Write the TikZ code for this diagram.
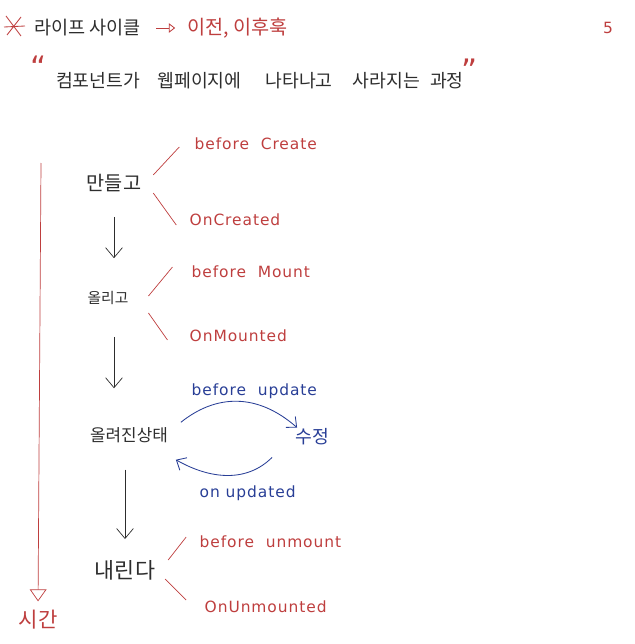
\documentclass[tikz,border=0pt]{standalone}
\usepackage{fontspec}
\setmainfont{DejaVu Sans}
\newfontfamily\pen[LetterSpace=6]{DejaVu Sans}
\newfontfamily\kor{Noto Sans CJK KR}
\usetikzlibrary{arrows.meta, positioning, calc}
\definecolor{penred}{RGB}{190,62,62}
\definecolor{penblue}{RGB}{40,62,150}
\definecolor{pendark}{RGB}{45,45,45}
\tikzset{
  stage/.style={font=\kor\fontsize{12}{14}\selectfont, text=pendark, inner sep=2pt},
  redstage/.style={stage, text=penred},
  hook/.style={font=\pen\fontsize{11}{13}\selectfont, text=penred, inner sep=1pt, anchor=west},
  bluehook/.style={hook, text=penblue},
  quote/.style={font=\fontsize{22}{22}\selectfont, text=penred, inner sep=0pt},
  tick/.style={line width=0.5pt, color=penred},
  flow/.style={-{Straight Barb[length=2.5mm, width=4.2mm]}, line width=0.5pt, color=pendark},
  cycle/.style={-{Straight Barb[length=2mm, width=3.6mm]}, line width=0.6pt, color=penblue},
  timeline/.style={-{Triangle[open, length=3mm, width=4.2mm]}, line width=0.5pt, color=penred},
  redarrow/.style={-{Triangle[open, length=1.6mm, width=2.4mm]}, line width=0.6pt, color=penred}
}
\begin{document}
\begin{tikzpicture}[x=0.025cm, y=-0.025cm]
  \useasboundingbox (0,0) rectangle (635,644);
  % heading
  \draw[tick, line width=0.6pt] (6,16) -- (21,36) (21,17) -- (7,35) (4,27) -- (25,26);
  \node[stage, anchor=west, font=\kor\fontsize{13.2}{15}\selectfont] (title) at (31,28) {라이프\hspace{1mm}사이클};
  \node[redstage, anchor=west, font=\kor\fontsize{14}{16}\selectfont] (hooks) at (184,28) {이전, 이후훅};
  \draw[redarrow, shorten <=0.32cm, shorten >=0.22cm] (title) -- (hooks);
  \node[font=\fontsize{11}{13}\selectfont, text=penred] (page) at (608,28) {5};
  \node[stage, anchor=west, font=\kor\fontsize{13}{15}\selectfont] (desc) at (53,81)
    {컴포넌트가\hspace{4.3mm}웹페이지에\hspace{6mm}나타나고\hspace{5mm}사라지는\hspace{2.5mm}과정};
  \node[quote] (qopen) at (39,67) {“};
  \node[quote] (qclose) at (470,70) {”};
  % time axis
  \coordinate (tstart) at (41,163);
  \node[redstage, font=\kor\fontsize{15}{17}\selectfont] (time) at (38,620) {시간};
  \draw[timeline, shorten >=0.15cm] (tstart) -- (time.north);
  % stages
  \node[stage, font=\kor\fontsize{14}{16}\selectfont] (make) at (114,183) {만들고};
  \node[stage, font=\kor\fontsize{10.5}{13}\selectfont] (mount) at (108,298) {올리고};
  \node[stage] (mounted) at (129,435) {올려진상태};
  \node[stage, text=penblue, font=\kor\fontsize{13}{15}\selectfont] (edit) at (312,437) {수정};
  \node[stage, font=\kor\fontsize{15.5}{17}\selectfont] (unmount) at (125,570) {내린다};
  \draw[flow, shorten <=0.55cm, shorten >=0.75cm] (make.south) -- (make.south |- mount.north);
  \draw[flow, shorten <=0.73cm, shorten >=0.9cm] (make.south |- mount.south) -- (make.south |- mounted.north);
  \draw[flow, shorten <=0.6cm, shorten >=0.45cm] (unmount.north |- mounted.south) -- (unmount.north);
  % hooks
  \node[hook] (bcreate) at (193,144) {before\ \ Create};
  \node[hook] (oncreated) at (188,220) {OnCreated};
  \node[hook] (bmount) at (190,272) {before\ \ Mount};
  \node[hook] (onmounted) at (188,336) {OnMounted};
  \node[bluehook] (bupdate) at (190,391) {before\ \ update};
  \node[bluehook] (onupdated) at (198,493) {on updated};
  \node[hook] (bunmount) at (198,542) {before\ \ unmount};
  \node[hook] (onunmounted) at (203,607) {OnUnmounted};
  \draw[tick] ($(make.east)+(9,-8)$) -- ++(26,-28);
  \draw[tick] ($(make.east)+(9,10)$) -- ++(23,32);
  \draw[tick] ($(mount.east)+(17,-2)$) -- ++(24,-29);
  \draw[tick] ($(mount.east)+(17,15)$) -- ++(19,27);
  \draw[tick] ($(unmount.east)+(10,-10)$) -- ++(18,-23);
  \draw[tick] ($(unmount.east)+(7,9)$) -- ++(21,21);
  % update cycle
  \draw[cycle] ($(mounted.north east)+(10,-2)$) .. controls +(35,-28) and +(-40,-35) .. ($(edit.north west)+(5,2)$);
  \draw[cycle] ($(edit.south west)+(-20,9)$) .. controls +(-25,25) and +(35,20) .. ($(mounted.south east)+(5,14)$);
\end{tikzpicture}
\end{document}
